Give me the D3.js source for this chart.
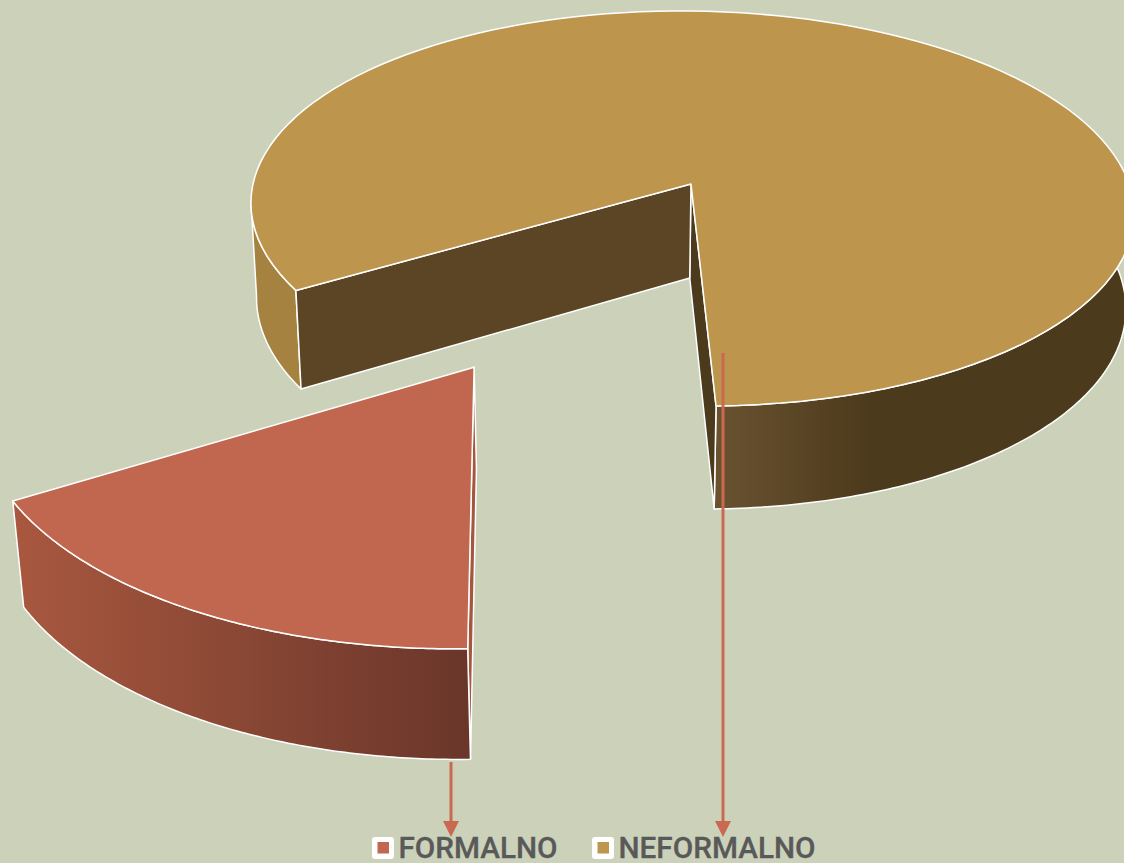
<!DOCTYPE html>
<html>
<head>
<meta charset="utf-8">
<script src="https://cdn.jsdelivr.net/npm/d3@7"></script>
<style>
  html, body { margin: 0; padding: 0; background: #ccd2ba; overflow: hidden; }
</style>
</head>
<body>
<div id="chart"></div>
<script>
const categories = ["FORMALNO", "NEFORMALNO"];
const values = [16.8, 83.2];
const topColors = ["#c1664f", "#bd954d"];

const width = 1124, height = 863;
const rad = d => d * Math.PI / 180;

// perspective set up of the disc
const cx = 691, cy = 184;
const R = 438, S = 194.5, p = 0.124, shear = 12;
const vpX = 610, vpY = 6300; // vanishing point of the walls
const explode = 0.964;
const firstAngle = 178.7;
const silhouetteLeft = 265, silhouetteRight = 85; // where the wall edge turns behind the top

const svg = d3.select("#chart").append("svg")
  .attr("width", width)
  .attr("height", height)
  .style("display", "block");

svg.append("rect").attr("width", width).attr("height", height).attr("fill", "#ccd2ba");

const defs = svg.append("defs");
function gradient(id, x1, x2, stops) {
  const g = defs.append("linearGradient")
    .attr("id", id)
    .attr("gradientUnits", "userSpaceOnUse")
    .attr("x1", x1).attr("x2", x2).attr("y1", 0).attr("y2", 0);
  stops.forEach(s => g.append("stop").attr("offset", s[0]).attr("stop-color", s[1]));
}
gradient("wallRed", 12, 469, [[0, "#a9583f"], [1, "#6a362a"]]);
gradient("wallBrown", 716, 870, [[0, "#6a5230"], [1, "#4c3a1c"]]);

// (u,v) on the ground plane, level 0 = top face, 1 = bottom face
function project(u, v, level) {
  const w = 1 - p * v;
  let x = cx + (R * u + shear * v) / w;
  let y = cy + S * v / w;
  if (level) {
    const dy = 94 + 9 * v;
    x += (vpX - x) * dy / (vpY - y);
    y += dy;
  }
  return [x, y];
}

const line = d3.line();
const arcPts = (a0, a1, off, level) =>
  d3.range(0, 121).map(i => {
    const a = a0 + (a1 - a0) * i / 120;
    return project(off[0] + Math.sin(a), off[1] - Math.cos(a), level);
  });

function drawPath(pts, fill) {
  svg.append("path")
    .attr("d", line(pts) + "Z")
    .attr("fill", fill)
    .attr("stroke", "#fff")
    .attr("stroke-width", 1.5)
    .attr("stroke-linejoin", "round");
}

function drawWall(a0, a1, off, fill) {
  drawPath(arcPts(a0, a1, off, 0).concat(arcPts(a1, a0, off, 1)), fill);
}

function drawCut(a, off, fill) {
  const e = [off[0] + Math.sin(a), off[1] - Math.cos(a)];
  drawPath([project(off[0], off[1], 0), project(e[0], e[1], 0), project(e[0], e[1], 1), project(off[0], off[1], 1)], fill);
}

const pie = d3.pie().sort(null).startAngle(rad(firstAngle)).endAngle(rad(firstAngle + 360));
const arcs = pie(values);

// big slice first, it sits behind the exploded one
const big = arcs[1];
const noOff = [0, 0];
drawWall(big.startAngle, rad(silhouetteLeft), noOff, "#a5823f");
drawWall(rad(360 + silhouetteRight), big.endAngle, noOff, "url(#wallBrown)");
drawCut(big.endAngle, noOff, "#4c3a1c");
drawCut(big.startAngle, noOff, "#5c4524");
drawPath([project(0, 0, 0)].concat(arcPts(big.startAngle, big.endAngle, noOff, 0)), topColors[1]);

// exploded slice
const small = arcs[0];
const mid = (small.startAngle + small.endAngle) / 2;
const off = [explode * Math.sin(mid), -explode * Math.cos(mid)];
drawCut(small.startAngle, off, "#a5563f");
drawWall(small.startAngle, small.endAngle, off, "url(#wallRed)");
drawPath([project(off[0], off[1], 0)].concat(arcPts(small.startAngle, small.endAngle, off, 0)), topColors[0]);

// leader arrows
const arrowColor = "#c96a50";
[[451, 762], [723, 353]].forEach(a => {
  svg.append("line")
    .attr("x1", a[0]).attr("x2", a[0])
    .attr("y1", a[1]).attr("y2", 824)
    .attr("stroke", arrowColor)
    .attr("stroke-width", 3);
  svg.append("path")
    .attr("d", line([[a[0] - 8, 821], [a[0] + 8, 821], [a[0], 837]]) + "Z")
    .attr("fill", arrowColor);
});

// legend
const legendX = [372, 592];
const legendW = [159, 197];
const legend = svg.selectAll(".legend")
  .data(categories)
  .join("g")
  .attr("class", "legend")
  .attr("transform", (d, i) => `translate(${legendX[i]},837)`);

legend.append("rect")
  .attr("width", 22).attr("height", 22).attr("rx", 3)
  .attr("fill", "#fff");
legend.append("rect")
  .attr("x", 5.5).attr("y", 5).attr("width", 11.5).attr("height", 11.5)
  .attr("fill", (d, i) => topColors[i]);
legend.append("text")
  .attr("x", 26.5)
  .attr("y", 21)
  .attr("textLength", (d, i) => legendW[i])
  .attr("lengthAdjust", "spacingAndGlyphs")
  .style("font-family", "Roboto, 'Liberation Sans', sans-serif")
  .style("font-weight", 500)
  .style("font-size", "29px")
  .attr("fill", "#595959")
  .attr("stroke", "#595959")
  .attr("stroke-width", 0.3)
  .text(d => d);
</script>
</body>
</html>
